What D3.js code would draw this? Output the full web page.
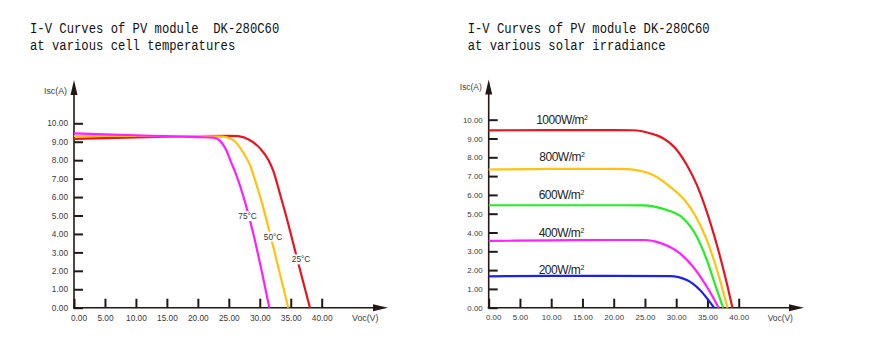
<!DOCTYPE html>
<html><head><meta charset="utf-8">
<script src="https://cdn.jsdelivr.net/npm/d3@7"></script>
<style>body{margin:0;background:#fff}svg{display:block}</style>
</head><body>
<svg id="c" width="894" height="342"></svg>
<script>
// ---------- data ----------
const voltTicks = [0,5,10,15,20,25,30,35,40];
const currTicks = [0,1,2,3,4,5,6,7,8,9,10];

// left: I-V at cell temperatures  [V, I]
const temp25 = [[0,9.16],[5,9.2],[10,9.24],[15,9.28],[20,9.31],[25,9.32],[26.5,9.3],[28.2,9.12],[30.05,8.64],[31.4,8.01],[32.2,7.4],[33.2,6.25],[34.4,4.8],[36.0,2.7],[38.1,0]];
const temp50 = [[0,9.31],[10,9.31],[20,9.3],[24,9.28],[25.7,9.1],[27.35,8.4],[28.4,7.75],[29.3,6.85],[30.3,5.75],[31.7,3.95],[33.1,2.05],[34.6,0]];
const temp75 = [[0,9.45],[5,9.4],[10,9.35],[15,9.3],[20,9.25],[22.5,9.22],[23.6,9.05],[24.5,8.6],[25.3,7.95],[26.1,7.3],[27.6,5.75],[29,3.95],[30.3,2.0],[31.55,0]];
const tempNames = ["25°C","50°C","75°C"];
const tempLabelAt = [[36.67,2.62],[32.15,3.85],[28.03,4.97]];

// right: I-V at solar irradiance  [V, I]
const irr1000 = [[0,9.43],[10,9.45],[20,9.45],[23.1,9.44],[25.8,9.28],[27.9,9.01],[30.1,8.39],[31.7,7.59],[33.3,6.53],[34.9,5.1],[36.5,3.35],[38.1,1.3],[39.0,0]];
const irr800 = [[0,7.35],[10,7.38],[20,7.38],[22.1,7.37],[26.3,7.06],[29.0,6.44],[31.4,5.7],[33.0,4.93],[34.9,3.6],[37.0,1.47],[38.2,0]];
const irr600 = [[0,5.45],[10,5.45],[20,5.45],[24.7,5.44],[26.5,5.38],[28.5,5.2],[31.1,4.76],[33.3,3.78],[35.0,2.45],[36.4,1.05],[37.5,0]];
const irr400 = [[0,3.55],[10,3.58],[20,3.6],[25,3.6],[27.4,3.45],[30.6,2.89],[32.7,2.18],[34.9,1.12],[36.8,0]];
const irr200 = [[0,1.67],[10,1.69],[20,1.69],[29,1.68],[31.7,1.47],[33.8,0.94],[36.05,0]];
const irrNames = ["1000W/m","800W/m","600W/m","400W/m","200W/m"];
const irrLabelAt = [[7.6,9.77],[8.1,7.8],[8.0,5.77],[8.0,3.76],[8.0,1.78]];

const titlesLeft = ["I-V Curves of PV module  DK-280C60","at various cell temperatures"];
const titlesRight = ["I-V Curves of PV module DK-280C60","at various solar irradiance"];

// ---------- drawing ----------
const svg = d3.select("#c");
const AXC = "#231815";
const fmt = d3.format(".2f");

function titles(lines, x0){
  lines.forEach((t,i)=>{
    svg.append("text").attr("x",x0).attr("y",32.7+i*17.3)
      .attr("font-family","'Liberation Mono', monospace").attr("font-size",14)
      .attr("textLength",t.length*7.33).attr("lengthAdjust","spacingAndGlyphs")
      .style("white-space","pre").attr("fill","#111").text(t);
  });
}
titles(titlesLeft,30);
titles(titlesRight,467.7);

function panel(o){
  const g = svg.append("g");
  const x = d3.scaleLinear().domain([0,40]).range([o.x0,o.x40]);
  const y = d3.scaleLinear().domain([0,10]).range([o.y0,o.y10]);
  const ya = g.append("g").attr("transform",`translate(${o.x0},0)`)
    .call(d3.axisLeft(y).tickValues(currTicks).tickFormat(fmt).tickSize(-9).tickPadding(6));
  ya.select(".domain").remove();
  ya.selectAll("line").attr("stroke",AXC).attr("stroke-width",2);
  ya.selectAll("text").attr("font-family","'Liberation Sans', Arial, sans-serif").attr("font-size",o.fs).attr("fill","#3a3a3a");
  const xa = g.append("g").attr("transform",`translate(0,${o.y0})`)
    .call(d3.axisBottom(x).tickValues(voltTicks).tickFormat(fmt).tickSize(-9).tickPadding(7));
  xa.select(".domain").remove();
  xa.selectAll("line").attr("stroke",AXC).attr("stroke-width",2);
  xa.selectAll("text").attr("font-family","'Liberation Sans', Arial, sans-serif").attr("font-size",o.fs).attr("fill","#3a3a3a");
  xa.selectAll(".tick").filter(d=>d===0).select("text").attr("dx",4.5);
  g.append("line").attr("x1",o.x0).attr("x2",o.x0).attr("y1",o.y0+1).attr("y2",o.yTip+6).attr("stroke",AXC).attr("stroke-width",1.6);
  g.append("line").attr("x1",o.x0-1).attr("x2",o.xTip-6).attr("y1",o.y0).attr("y2",o.y0).attr("stroke",AXC).attr("stroke-width",1.6);
  g.append("path").attr("d",`M${o.x0},${o.yTip} L${o.x0-3.5},${o.yTip+15} L${o.x0+3.5},${o.yTip+15}Z`).attr("fill",AXC);
  g.append("path").attr("d",`M${o.xTip},${o.y0} L${o.xTip-15},${o.y0-3.5} L${o.xTip-15},${o.y0+3.5}Z`).attr("fill",AXC);
  g.append("text").attr("x",o.x0-7).attr("y",o.isY).attr("text-anchor","end")
    .attr("font-family","'Liberation Sans', Arial, sans-serif").attr("font-size",o.fs+0.5).attr("fill","#3a3a3a").text("Isc(A)");
  g.append("text").attr("x",o.vocX).attr("y",o.y0+13.5)
    .attr("font-family","'Liberation Sans', Arial, sans-serif").attr("font-size",o.fs+0.5).attr("fill","#3a3a3a").text("Voc(V)");
  const line = d3.line().x(d=>x(d[0])).y(d=>y(d[1])).curve(d3.curveMonotoneX);
  o.series.forEach((s,i)=>{
    g.append("path").datum(s).attr("d",line).attr("fill","none")
      .attr("stroke",o.colors[i]).attr("stroke-width",2.2).attr("stroke-linejoin","round");
  });
  return {g,x,y};
}

const L = panel({x0:74,x40:321.7,y0:307.7,y10:123.3,yTip:80,xTip:388,isY:94,vocX:352,fs:8.3,
  series:[temp25,temp50,temp75], colors:["#E8141E","#FFC20E","#FF1EFF"]});
tempNames.forEach((t,i)=>{
  const cx=L.x(tempLabelAt[i][0]), cy=L.y(tempLabelAt[i][1]);
  L.g.append("rect").attr("x",cx-9).attr("y",cy-5).attr("width",18).attr("height",10).attr("fill","#fff");
  L.g.append("text").attr("x",cx).attr("y",cy+3).attr("text-anchor","middle")
    .attr("font-family","'Liberation Sans', Arial, sans-serif").attr("font-size",8.3).attr("fill","#333").text(t);
});

const R = panel({x0:488.7,x40:738.7,y0:307.7,y10:119.7,yTip:79.5,xTip:804,isY:90,vocX:767.7,fs:7.9,
  series:[irr1000,irr800,irr600,irr400,irr200], colors:["#E8141E","#FFC20E","#22EE22","#FF22FF","#1E1EF0"]});
irrNames.forEach((t,i)=>{
  const tx = R.g.append("text").attr("x",R.x(irrLabelAt[i][0])).attr("y",R.y(irrLabelAt[i][1]))
    .attr("font-family","'Liberation Sans', Arial, sans-serif").attr("font-size",12).attr("letter-spacing",-0.5).attr("fill","#222");
  tx.append("tspan").text(t);
  tx.append("tspan").attr("font-size",7).attr("dy",-4.5).text("2");
});
</script>
</body></html>
